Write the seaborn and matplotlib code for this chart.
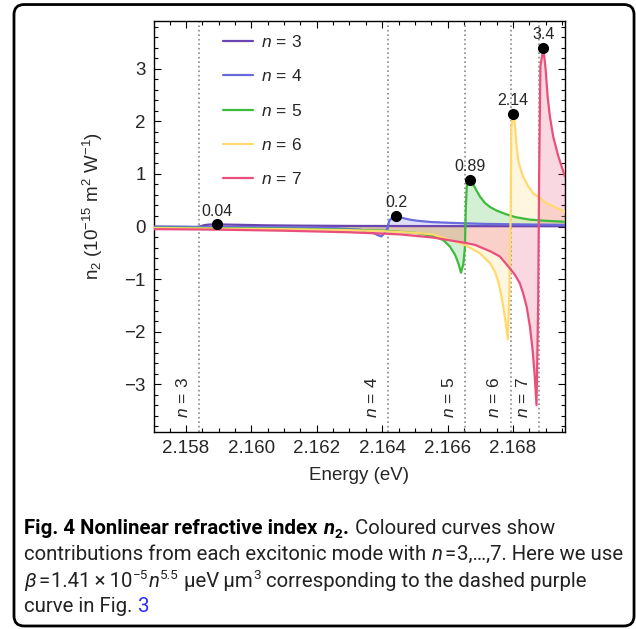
import numpy as np
import pandas as pd
import matplotlib
matplotlib.use("Agg")
import matplotlib.pyplot as plt
from matplotlib.patches import FancyBboxPatch
from matplotlib.ticker import MultipleLocator, FormatStrFormatter
import seaborn as sns

# excitonic modes and their resonance energies (eV), from the dotted lines
modes = [3, 4, 5, 6, 7]
res_E = [2.15841, 2.16419, 2.16654, 2.16794, 2.16881]

# labelled maxima
peak_E = [2.15894, 2.16443, 2.16668, 2.16801, 2.16893]
peak_val = [0.04, 0.2, 0.89, 2.14, 3.4]
peak_txt = ["0.04", "0.2", "0.89", "2.14", "3.4"]

# n2 contribution of each mode (1e-15 m^2/W)
E3 = [2.15702, 2.15760, 2.15800, 2.15830, 2.15843, 2.15855, 2.15870, 2.15894,
      2.15930, 2.15980, 2.16050, 2.16150, 2.16300, 2.16500, 2.16700, 2.16959]
n3 = [-0.003, -0.005, -0.008, -0.012, 0.0, 0.025, 0.037, 0.040,
      0.036, 0.030, 0.022, 0.016, 0.011, 0.008, 0.006, 0.005]

E4 = [2.15702, 2.15900, 2.16100, 2.16250, 2.16332, 2.16369, 2.16385, 2.16397,
      2.16408, 2.16416, 2.16421, 2.16430, 2.16443, 2.16464, 2.16485, 2.16506,
      2.16550, 2.16607, 2.16709, 2.16820, 2.16959]
n4 = [-0.005, -0.008, -0.015, -0.03, -0.06, -0.11, -0.16, -0.19,
      -0.12, -0.04, 0.10, 0.17, 0.20, 0.16, 0.13, 0.11,
      0.085, 0.07, 0.05, 0.04, 0.03]

E5 = [2.15702, 2.15900, 2.16100, 2.16300, 2.16402, 2.16500, 2.16556, 2.16587,
      2.16607, 2.16623, 2.16633, 2.16641, 2.16648, 2.16653, 2.16656, 2.16659,
      2.16668, 2.16678, 2.16687, 2.16699, 2.16714, 2.16730, 2.16751, 2.16776,
      2.16806, 2.16852, 2.16898, 2.16959]
n5 = [-0.02, -0.03, -0.04, -0.06, -0.08, -0.12, -0.18, -0.26,
      -0.38, -0.54, -0.70, -0.88, -0.72, -0.40, 0.40, 0.78,
      0.89, 0.81, 0.70, 0.57, 0.45, 0.37, 0.30, 0.24,
      0.18, 0.13, 0.11, 0.09]

E6 = [2.15702, 2.15900, 2.16100, 2.16300, 2.16402, 2.16500, 2.16555, 2.16653,
      2.16699, 2.16730, 2.16745, 2.16755, 2.16765, 2.16772, 2.16778, 2.16784,
      2.16789, 2.16793, 2.16795, 2.16801, 2.16804, 2.16808, 2.16811, 2.16818,
      2.16831, 2.16847, 2.16862, 2.16883, 2.16903, 2.16928, 2.16959]
n6 = [-0.03, -0.04, -0.05, -0.07, -0.09, -0.12, -0.15, -0.35,
      -0.51, -0.70, -0.86, -1.05, -1.34, -1.59, -1.84, -2.15,
      -1.30, 0.30, 1.90, 2.14, 2.06, 1.78, 1.52, 1.20,
      0.95, 0.76, 0.63, 0.54, 0.44, 0.37, 0.28]

E7 = [2.15702, 2.15900, 2.16100, 2.16300, 2.16454, 2.16555, 2.16653, 2.16684,
      2.16730, 2.16760, 2.16791, 2.16806, 2.16821, 2.16831, 2.16842, 2.16852,
      2.16860, 2.16866, 2.16872, 2.16877, 2.16880, 2.16884, 2.16893, 2.16900,
      2.16906, 2.16913, 2.16923, 2.16939, 2.16959]
n7 = [-0.05, -0.06, -0.08, -0.11, -0.15, -0.21, -0.31, -0.35,
      -0.47, -0.57, -0.80, -0.92, -1.08, -1.27, -1.53, -1.91,
      -2.35, -2.80, -3.40, -1.50, 1.00, 3.05, 3.40, 2.98,
      2.47, 2.09, 1.71, 1.33, 0.95]

colors = ["#6a45b0", "#6b6be0", "#3dbb3d", "#ffd96e", "#ea4f7c"]
labels = [rf"$n\,=\,{m}$" for m in modes]

curves = [(E3, n3), (E4, n4), (E5, n5), (E6, n6), (E7, n7)]
df = pd.concat([pd.DataFrame({"E": e, "n2": v, "mode": lab})
                for (e, v), lab in zip(curves, labels)], ignore_index=True)

sns.set_theme(style="ticks")
plt.rcParams["font.family"] = ["Liberation Sans", "DejaVu Sans"]
plt.rcParams["mathtext.fontset"] = "custom"
plt.rcParams["mathtext.rm"] = "Liberation Sans"
plt.rcParams["mathtext.it"] = "Liberation Sans:italic"
plt.rcParams["mathtext.bf"] = "Liberation Sans:bold"

cap_font = ["Roboto", "DejaVu Sans"]

fig = plt.figure(figsize=(6.36, 6.29), dpi=100)
ax = fig.add_axes([0.2421, 0.3132, 0.6462, 0.6534])

# shaded areas first, lines on top
for (e, v), c in zip(curves, colors):
    ax.fill_between(e, v, 0, color=c, alpha=0.22, lw=0, zorder=1)

sns.lineplot(data=df, x="E", y="n2", hue="mode", palette=colors, hue_order=labels,
             estimator=None, sort=False, linewidth=1.6, ax=ax, zorder=3)

for e, lab in zip(res_E, labels):
    ax.axvline(e, color="#8a8a8a", lw=1.2, ls=(0, (1, 1.7)), zorder=2)
    ax.annotate(lab, xy=(e, -3.25), xytext=(-12, 0), textcoords="offset points",
                rotation=90, ha="center", va="center", fontsize=12.5)

ax.plot(peak_E, peak_val, "o", color="black", ms=7, zorder=5)
for e, v, t in zip(peak_E, peak_val, peak_txt):
    ax.annotate(t, xy=(e, v), xytext=(0, 9.5), textcoords="offset points",
                ha="center", va="center", fontsize=11.5)

ax.set_xlim(2.15702, 2.16959)
ax.set_ylim(-3.91, 3.91)
ax.xaxis.set_major_locator(MultipleLocator(0.002))
ax.xaxis.set_minor_locator(MultipleLocator(0.0005))
ax.xaxis.set_major_formatter(FormatStrFormatter("%.3f"))
ax.yaxis.set_major_locator(MultipleLocator(1))
ax.yaxis.set_minor_locator(MultipleLocator(0.2))
ax.tick_params(which="both", direction="in", top=True, right=True, width=0.8,
               labelsize=13.5, pad=6, color="black")
ax.tick_params(which="major", length=5)
ax.tick_params(which="minor", length=2.8)
for s in ax.spines.values():
    s.set_linewidth(1.0)
    s.set_color("black")

ax.set_xlabel("Energy (eV)", fontsize=13.5, labelpad=7)
ax.set_ylabel(r"n$_2$ (10$^{-15}$ m$^2$ W$^{-1}$)", fontsize=13.5, labelpad=3)
ax.yaxis.set_label_coords(-0.118, 0.55)

handles, _ = ax.get_legend_handles_labels()
ax.legend(handles[:5], labels, loc="upper left", bbox_to_anchor=(0.168, 0.968),
          frameon=False, fontsize=12.5, handlelength=1.75, handletextpad=0.45,
          labelspacing=1.05, borderpad=0, borderaxespad=0)

# caption
cap_size = 14.7
cap_col = "#222222"


def caption_line(y, runs):
    prev = None
    for text, size, weight, style, dy, gap, col in runs:
        kw = dict(fontsize=size, fontweight=weight, fontstyle=style, family=cap_font,
                  color=col, ha="left", va="baseline")
        if prev is None:
            prev = fig.text(0.038, y, text, **kw)
        else:
            prev = ax.annotate(text, xy=(1, y), xycoords=(prev, "figure fraction"),
                               xytext=(gap, dy), textcoords="offset points",
                               annotation_clip=False, **kw)


sp = 3.9
sm = cap_size * 0.66
caption_line(1 - 534 / 629, [
    ("Fig. 4 Nonlinear refractive index", cap_size, "bold", "normal", 0, 0, "black"),
    ("n", cap_size, "bold", "italic", 0, sp, "black"),
    ("2", sm, "bold", "normal", -3, 0.3, "black"),
    (".", cap_size, "bold", "normal", 0, 0.2, "black"),
    ("Coloured curves show", cap_size, "normal", "normal", 0, sp + 0.8, cap_col),
])
caption_line(1 - 560 / 629, [
    ("contributions from each excitonic mode with", cap_size, "normal", "normal", 0, 0, cap_col),
    ("n", cap_size, "normal", "italic", 0, sp, cap_col),
    ("=", cap_size, "normal", "normal", 0, 1.2, cap_col),
    ("3,\u2026,7. Here we use", cap_size, "normal", "normal", 0, 1.2, cap_col),
])
caption_line(1 - 587 / 629, [
    ("\u03b2", cap_size, "normal", "italic", 0, 0, cap_col),
    ("=", cap_size, "normal", "normal", 0, 1.5, cap_col),
    ("1.41\u2009\u00d7\u200910", cap_size, "normal", "normal", 0, 1.5, cap_col),
    ("\u22125", sm, "normal", "normal", 6, 0.3, cap_col),
    ("n", cap_size, "normal", "italic", 0, 0.3, cap_col),
    ("5.5", sm, "normal", "normal", 6, 0.3, cap_col),
    ("\u03bceV\u2009\u03bcm", cap_size, "normal", "normal", 0, sp, cap_col),
    ("3", sm, "normal", "normal", 6, 0.3, cap_col),
    ("corresponding to the dashed purple", cap_size, "normal", "normal", 0, sp, cap_col),
])
caption_line(1 - 612 / 629, [
    ("curve in Fig.", cap_size, "normal", "normal", 0, 0, cap_col),
    ("3", cap_size, "normal", "normal", 0, sp, "#2b2bff"),
])

fig.add_artist(FancyBboxPatch((0.022, 0.0048), 0.9749, 0.988,
                              boxstyle="round,pad=0,rounding_size=0.016",
                              transform=fig.transFigure, fill=False, lw=2, ec="black"))

fig.savefig("out.png", dpi=100)
